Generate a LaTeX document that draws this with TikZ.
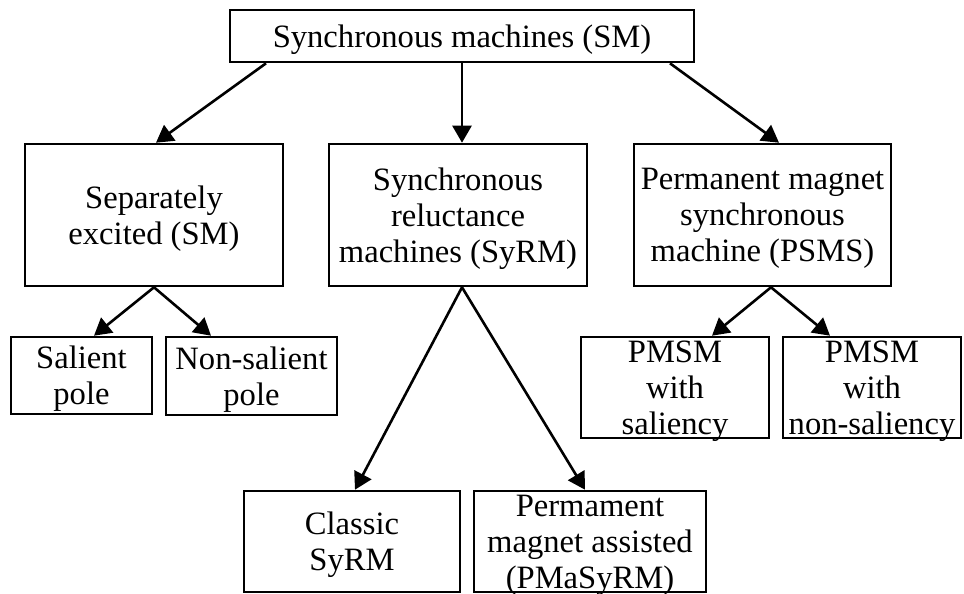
\documentclass[tikz,border=0pt]{standalone}
\usepackage{fontspec}
\setmainfont{Liberation Serif}
\usetikzlibrary{arrows.meta}
\begin{document}
\begin{tikzpicture}[x=0.5pt,y=-0.5pt,
  box/.style={draw,line width=1.3pt,inner sep=0pt,rectangle},
  lbl/.style={align=center,inner sep=0pt,yshift=-1.75pt,font=\fontsize{16.3pt}{18pt}\selectfont},
  conn/.style={line width=1.3pt,-{Triangle[length=8.5pt,width=9.5pt]}}]
\useasboundingbox (0,0) rectangle (964,594);
% boxes
\node[box,minimum width=232pt,minimum height=26pt] (top) at (462,36) {};
\node[box,minimum width=129pt,minimum height=71pt] (sep) at (154,215) {};
\node[box,minimum width=129pt,minimum height=71pt] (syrm) at (458,215) {};
\node[box,minimum width=128.5pt,minimum height=71pt] (pmsm) at (762.5,215) {};
\node[box,minimum width=70.5pt,minimum height=38.5pt] (sal) at (81.5,375.5) {};
\node[box,minimum width=85.5pt,minimum height=39pt] (nonsal) at (251.5,376) {};
\node[box,minimum width=108pt,minimum height=50.5pt] (classic) at (352,541.5) {};
\node[box,minimum width=116pt,minimum height=50.5pt] (pmasyrm) at (590,541.5) {};
\node[box,minimum width=94pt,minimum height=50.5pt] (pmsal) at (675,387.5) {};
\node[box,minimum width=89pt,minimum height=50.5pt] (pmnon) at (872,387.5) {};
% texts
\node[lbl] (ttop) at (top.center) {Synchronous machines (SM)};
\node[lbl] (tsep) at (sep.center) {Separately\\excited (SM)};
\node[lbl] (tsyrm) at (syrm.center) {Synchronous\\reluctance\\machines (SyRM)};
\node[lbl] (tpmsm) at (pmsm.center) {Permanent magnet\\synchronous\\machine (PSMS)};
\node[lbl] (tsal) at (sal.center) {Salient\\pole};
\node[lbl] (tnonsal) at (nonsal.center) {Non-salient\\pole};
\node[lbl] (tclassic) at (classic.center) {Classic\\SyRM};
\node[lbl] (tpmasyrm) at (pmasyrm.center) {Permament\\magnet assisted\\(PMaSyRM)};
\node[lbl] (tpmsal) at (pmsal.center) {PMSM\\with\\saliency};
\node[lbl] (tpmnon) at (pmnon.center) {PMSM\\with\\non-saliency};
% connectors
\draw[conn] ([xshift=-98pt]top.south) -- ([xshift=1pt]sep.north);
\draw[conn] (top.south) -- (top.south |- syrm.north);
\draw[conn] ([xshift=104pt]top.south) -- ([xshift=8.25pt]pmsm.north);
\draw[conn] (sep.south) -- ([xshift=6.25pt]sal.north);
\draw[conn] (sep.south) -- ([xshift=-20.25pt]nonsal.north);
\draw[conn] ([xshift=2pt]syrm.south) -- ([xshift=1.5pt]classic.north);
\draw[conn] ([xshift=2pt]syrm.south) -- ([xshift=-2.5pt]pmasyrm.north);
\draw[conn] ([xshift=4.25pt]pmsm.south) -- ([xshift=18.5pt]pmsal.north);
\draw[conn] ([xshift=4.25pt]pmsm.south) -- ([xshift=-21pt]pmnon.north);
\end{tikzpicture}
\end{document}
